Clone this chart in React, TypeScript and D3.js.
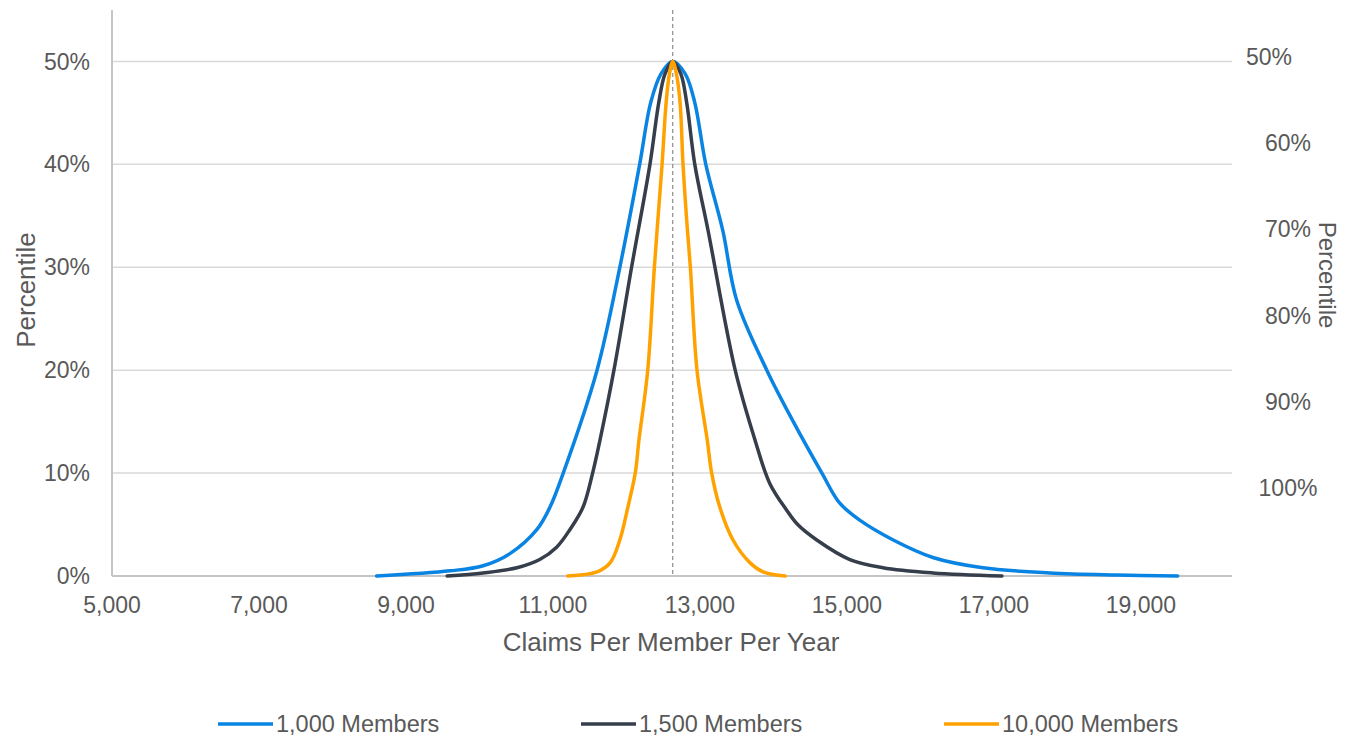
import React from 'react';
import * as d3 from 'd3';

// chart size
const width = 1348;
const height = 736;
const plot = { left: 112, right: 1232, top: 10, bottom: 576 };

// tick labels
const xTicks = [5000, 7000, 9000, 11000, 13000, 15000, 17000, 19000];
const yTicks = [0, 0.1, 0.2, 0.3, 0.4, 0.5];
const rightTicks = [50, 60, 70, 80, 90, 100];

// median claims (the dashed line)
const medianClaims = 12630;

// 1,000 members
const claims1000 = [
  8600, 9600, 10050, 10420, 10780, 10960, 11140, 11600, 11910, 12180, 12330, 12470,
  12630, 12800, 12930, 13080, 13310, 13500, 13910, 14270, 14660, 14900, 15180, 15630, 16170,
  16850, 17760, 18670, 19500,
];
const pct1000 = [
  0, 0.5, 1.0, 2.2, 4.5, 6.7, 10, 20, 30, 40, 46, 48.8,
  50, 48.8, 46, 40, 33.6, 26.8, 20, 15, 10, 7.1, 5.4, 3.5, 1.8,
  0.8, 0.3, 0.1, 0,
];

// 1,500 members
const claims1500 = [
  9560, 10050, 10510, 10820, 11050, 11230, 11410, 11540, 11640, 11830, 12070, 12320,
  12440, 12525, 12630, 12740, 12820, 12930, 13110, 13480, 13750, 13950, 14180, 14330, 14590,
  15040, 15490, 16170, 17110,
];
const pct1500 = [
  0, 0.3, 0.8, 1.6, 2.8, 4.5, 6.7, 10, 13.2, 20, 30, 40,
  46, 48.8, 50, 48.8, 46, 40, 33.6, 20, 13.2, 9, 6.4, 5.0, 3.5,
  1.6, 0.8, 0.3, 0,
];

// 10,000 members
const claims10000 = [
  11200, 11600, 11780, 11910, 12020, 12120, 12170, 12290, 12380, 12485, 12540, 12585,
  12630, 12680, 12730, 12770, 12830, 12870, 12960, 13100, 13160, 13270, 13450, 13680, 13860,
  14160,
];
const pct10000 = [
  0, 0.4, 1.3, 3.5, 6.7, 10, 13.2, 20, 30, 40, 46, 48.8,
  50, 48.8, 46, 40, 33.6, 30, 20, 13.2, 10, 6.7, 3.5, 1.3, 0.4,
  0,
];

const seriesNames = ['1,000 Members', '1,500 Members', '10,000 Members'];
const seriesColors = ['#0984E3', '#353E4A', '#FFA200'];

const font = '"Liberation Sans", Arial, Helvetica, sans-serif';
const textColor = '#595959';

export default function App() {
  const x = d3.scaleLinear().domain([5000, 20240]).range([plot.left, plot.right]);
  const y = d3.scaleLinear().domain([0, 0.55]).range([plot.bottom, plot.top]);
  const yRight = d3.scaleLinear().domain([50, 100]).range([57, 488]);

  // parametric spline so the near-vertical flanks stay smooth
  const line = d3
    .line<[number, number]>()
    .x((d) => x(d[0]))
    .y((d) => y(d[1] / 100))
    .curve(d3.curveCatmullRom.alpha(0.5));

  const series = [
    d3.zip(claims1000, pct1000),
    d3.zip(claims1500, pct1500),
    d3.zip(claims10000, pct10000),
  ] as [number, number][][];

  return (
    <svg
      width={width}
      height={height}
      style={{ position: 'absolute', left: 0, top: 0, background: '#fff' }}
      fontFamily={font}
    >
      {/* gridlines */}
      {yTicks.slice(1).map((t) => (
        <line key={t} x1={plot.left} x2={plot.right} y1={y(t)} y2={y(t)} stroke="#d9d9d9" strokeWidth={1.5} />
      ))}
      {/* axes */}
      <line x1={plot.left} x2={plot.right} y1={y(0)} y2={y(0)} stroke="#c4c4c4" strokeWidth={2} />
      <line x1={plot.left} x2={plot.left} y1={plot.top} y2={plot.bottom} stroke="#c4c4c4" strokeWidth={2} />

      {/* median */}
      <line
        x1={x(medianClaims)}
        x2={x(medianClaims)}
        y1={plot.top}
        y2={plot.bottom}
        stroke="#8a8a8a"
        strokeWidth={1.2}
        strokeDasharray="4,3"
      />

      {/* curves */}
      {series.map((s, i) => (
        <path
          key={seriesNames[i]}
          d={line(s) ?? ''}
          fill="none"
          stroke={seriesColors[i]}
          strokeWidth={3.5}
          strokeLinecap="round"
          strokeLinejoin="round"
        />
      ))}

      {/* left axis labels */}
      {yTicks.map((t) => (
        <text key={t} x={90} y={y(t)} dy="0.35em" textAnchor="end" fontSize={23} fill={textColor}>
          {d3.format('.0%')(t)}
        </text>
      ))}
      <text
        transform={`translate(35, 290) rotate(-90)`}
        textAnchor="middle"
        fontSize={26}
        fill={textColor}
      >
        Percentile
      </text>

      {/* x axis labels */}
      {xTicks.map((t) => (
        <text key={t} x={x(t)} y={613} textAnchor="middle" fontSize={23} fill={textColor}>
          {d3.format(',')(t)}
        </text>
      ))}
      <text x={671} y={651} textAnchor="middle" fontSize={26} fill={textColor}>
        Claims Per Member Per Year
      </text>

      {/* right axis labels */}
      {rightTicks.map((t, i) => (
        <text
          key={t}
          x={i === 0 ? 1269 : 1288}
          y={yRight(t)}
          dy="0.35em"
          textAnchor="middle"
          fontSize={23}
          fill={textColor}
        >
          {t}%
        </text>
      ))}
      <text
        transform={`translate(1319, 275) rotate(90)`}
        textAnchor="middle"
        fontSize={24}
        fill={textColor}
      >
        Percentile
      </text>

      {/* legend */}
      {seriesNames.map((name, i) => {
        const lx = 218 + i * 363;
        return (
          <g key={name}>
            <line x1={lx} x2={lx + 55} y1={724} y2={724} stroke={seriesColors[i]} strokeWidth={3.5} />
            <text x={lx + 58} y={724} dy="0.35em" fontSize={23.5} fill={textColor}>
              {name}
            </text>
          </g>
        );
      })}
    </svg>
  );
}
